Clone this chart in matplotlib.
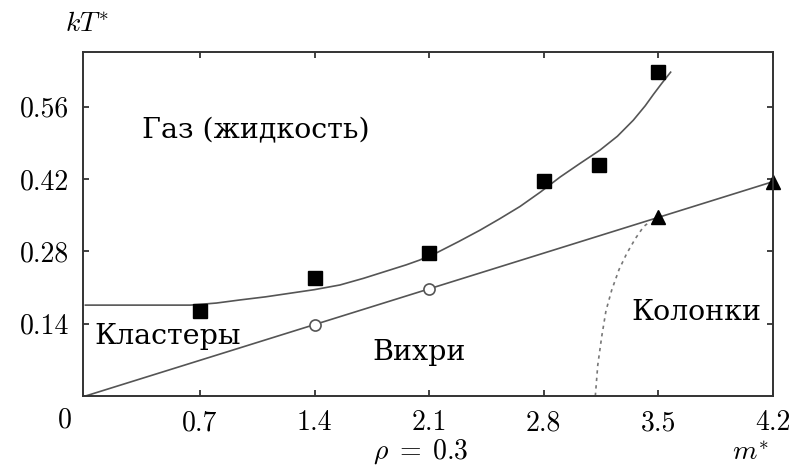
import matplotlib
matplotlib.use("Agg")
import matplotlib.pyplot as plt

plt.rcParams['mathtext.fontset'] = 'cm'

# data
sq_x = [0.7, 1.4, 2.1, 2.8, 3.14, 3.5]
sq_y = [0.165, 0.228, 0.277, 0.416, 0.448, 0.627]

circ_x = [1.4, 2.1]
circ_y = [0.1375, 0.2066]

tri_x = [3.5, 4.2]
tri_y = [0.346, 0.415]

# gas / vortex boundary (hand traced)
curve_x = [0.0, 0.64, 0.8, 0.944, 1.1, 1.25, 1.4, 1.555, 1.7, 1.86, 1.96, 2.04, 2.15,
           2.28, 2.41, 2.53, 2.655, 2.78, 2.9, 3.02, 3.143, 3.25, 3.347, 3.42, 3.47, 3.52, 3.575]
curve_y = [0.176, 0.176, 0.18, 0.186, 0.192, 0.199, 0.206, 0.215, 0.228, 0.244, 0.254, 0.263, 0.278,
           0.299, 0.321, 0.343, 0.367, 0.395, 0.424, 0.45, 0.476, 0.503, 0.534, 0.562, 0.584, 0.605, 0.627]

# straight line vortex / clusters
line_x = [0.0, 4.2]
line_y = [0.0, 0.415]

# dotted boundary of columns
dot_x = [3.115, 3.13, 3.154, 3.18, 3.215, 3.26, 3.307, 3.36, 3.41, 3.45]
dot_y = [0.0, 0.06, 0.115, 0.165, 0.205, 0.245, 0.276, 0.305, 0.328, 0.338]

xticks = [0.7, 1.4, 2.1, 2.8, 3.5, 4.2]
yticks = [0.14, 0.28, 0.42, 0.56]

num_font = ['cmr10', 'DejaVu Serif']
txt_font = ['DejaVu Serif']

fig = plt.figure(figsize=(7.97, 4.70), dpi=100)
ax = fig.add_axes([0.1041, 0.1574, 0.8657, 0.7319])

ax.plot(curve_x, curve_y, color='#555555', lw=1.2)
ax.plot(line_x, line_y, color='#555555', lw=1.2)
ax.plot(dot_x, dot_y, color='#777777', lw=1.2, linestyle=(0, (2, 2.5)))

ax.plot(sq_x, sq_y, 's', color='black', ms=10, ls='none')
ax.plot(circ_x, circ_y, 'o', mfc='white', mec='#555555', mew=1.2, ms=8, ls='none')
ax.plot(tri_x, tri_y, '^', color='black', ms=10, ls='none', clip_on=False)

ax.set_xlim(-0.015, 4.2)
ax.set_ylim(0, 0.666)

ax.set_xticks(xticks)
ax.set_xticklabels([str(v) for v in xticks], fontfamily=num_font, fontsize=20)
ax.set_yticks(yticks)
ax.set_yticklabels([str(v) for v in yticks], fontfamily=num_font, fontsize=20)
ax.tick_params(direction='in', length=4, width=1.3, top=True, right=True, color='#333333', pad=10)
for s in ax.spines.values():
    s.set_linewidth(1.4)
    s.set_color('#333333')

fig.text(65 / 797, 1 - 420 / 470, '0', fontfamily=num_font, fontsize=20, ha='center', va='center')
fig.text(87 / 797, 1 - 23 / 470, r'$kT^{*}$', fontsize=20, ha='center', va='center')
fig.text(750 / 797, 1 - 452 / 470, r'$m^{*}$', fontsize=20, ha='center', va='center')
fig.text(421 / 797, 1 - 452 / 470, r'$\rho\;=\;0.3$', fontsize=20, ha='center', va='center')

ax.text(256 / 797, 1 - 131 / 470, 'Газ (жидкость)', transform=fig.transFigure,
        fontfamily=txt_font, fontsize=20.5, ha='center', va='center')
ax.text(168 / 797, 1 - 336 / 470, 'Кластеры', transform=fig.transFigure,
        fontfamily=txt_font, fontsize=20.5, ha='center', va='center')
ax.text(419 / 797, 1 - 352 / 470, 'Вихри', transform=fig.transFigure,
        fontfamily=txt_font, fontsize=20.5, ha='center', va='center')
ax.text(696 / 797, 1 - 313 / 470, 'Колонки', transform=fig.transFigure,
        fontfamily=txt_font, fontsize=20.5, ha='center', va='center')

fig.savefig('out.png', dpi=100)
